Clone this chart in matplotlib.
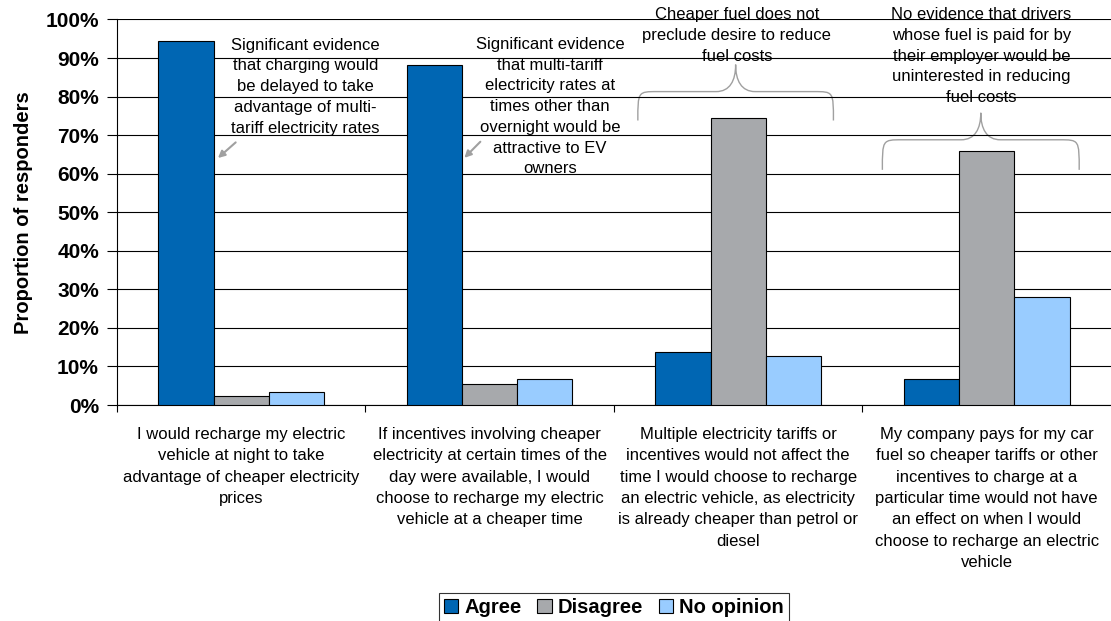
import matplotlib
matplotlib.use("Agg")

import matplotlib.pyplot as plt
import numpy as np
from matplotlib.path import Path
from matplotlib.patches import PathPatch, Patch
from matplotlib.ticker import PercentFormatter

plt.rcParams['font.family'] = ['Liberation Sans', 'DejaVu Sans']

categories = [
    "I would recharge my electric\nvehicle at night to take\nadvantage of cheaper electricity\nprices",
    "If incentives involving cheaper\nelectricity at certain times of the\nday were available, I would\nchoose to recharge my electric\nvehicle at a cheaper time",
    "Multiple electricity tariffs or\nincentives would not affect the\ntime I would choose to recharge\nan electric vehicle, as electricity\nis already cheaper than petrol or\ndiesel",
    "My company pays for my car\nfuel so cheaper tariffs or other\nincentives to charge at a\nparticular time would not have\nan effect on when I would\nchoose to recharge an electric\nvehicle",
]
series = ["Agree", "Disagree", "No opinion"]
agree = [94.4, 88.2, 13.7, 6.7]
disagree = [2.4, 5.4, 74.4, 65.8]
no_opinion = [3.5, 6.7, 12.6, 27.9]
colors = ["#0066B3", "#A7A9AC", "#99CCFF"]

notes = [
    "Significant evidence\nthat charging would\nbe delayed to take\nadvantage of multi-\ntariff electricity rates",
    "Significant evidence\nthat multi-tariff\nelectricity rates at\ntimes other than\novernight would be\nattractive to EV\nowners",
    "Cheaper fuel does not\npreclude desire to reduce\nfuel costs",
    "No evidence that drivers\nwhose fuel is paid for by\ntheir employer would be\nuninterested in reducing\nfuel costs",
]


def brace(ax, x0, x1, yb, yh, yt):
    # curly brace opening downward, tip pointing up
    xm = (x0 + x1) / 2
    r = (x1 - x0) * 0.1
    verts = [
        (x0, yb), (x0, yh), (x0, yh), (x0 + r, yh),
        (xm - r, yh),
        (xm - r * 0.3, yh), (xm, yh + (yt - yh) * 0.4), (xm, yt),
        (xm, yh + (yt - yh) * 0.4), (xm + r * 0.3, yh), (xm + r, yh),
        (x1 - r, yh),
        (x1, yh), (x1, yh), (x1, yb),
    ]
    codes = [Path.MOVETO, Path.CURVE4, Path.CURVE4, Path.CURVE4,
             Path.LINETO,
             Path.CURVE4, Path.CURVE4, Path.CURVE4,
             Path.CURVE4, Path.CURVE4, Path.CURVE4,
             Path.LINETO,
             Path.CURVE4, Path.CURVE4, Path.CURVE4]
    ax.add_patch(PathPatch(Path(verts, codes), fill=False, edgecolor="#A0A0A0",
                           lw=1.0, clip_on=False))


fig = plt.figure(figsize=(11.11, 6.21), dpi=100)
ax = fig.add_axes([0.1053, 0.3478, 0.8947, 0.6208])

x = np.arange(len(categories))
w = 0.222
for i, (vals, name) in enumerate(zip([agree, disagree, no_opinion], series)):
    ax.bar(x + (i - 1) * w, vals, w, color=colors[i], edgecolor="black",
           linewidth=0.8, label=name, zorder=3)

ax.set_xlim(-0.5, 3.5)
ax.set_ylim(0, 100)
ax.set_yticks(np.arange(0, 101, 10))
ax.yaxis.set_major_formatter(PercentFormatter(decimals=0))
ax.grid(axis="y", color="black", lw=0.8, zorder=0)
ax.set_xticks([-0.5, 0.5, 1.5, 2.5])
ax.set_xticklabels([])
ax.tick_params(axis="x", direction="out", length=5, width=0.8)
ax.tick_params(axis="y", direction="out", length=7, width=0.8, labelsize=15, pad=6)
for lab in ax.get_yticklabels():
    lab.set_fontweight("bold")
for s in ["top", "right"]:
    ax.spines[s].set_visible(False)
ax.set_ylabel("Proportion of responders", fontsize=14.5, fontweight="bold")
ax.yaxis.set_label_coords(-0.084, 0.5)

for xi, cat in zip(x, categories):
    ax.text(xi, -5.7, cat, ha="center", va="top", fontsize=12, linespacing=1.53)

# annotations
fs = 12
ls = 1.48
ax.text(0.259, 82.6, notes[0], ha="center", va="center", fontsize=fs,
        linespacing=ls, zorder=4)
ax.text(1.243, 77.4, notes[1], ha="center", va="center", fontsize=fs,
        linespacing=ls, zorder=4)
ax.text(1.994, 95.8, notes[2], ha="center", va="center", fontsize=fs,
        linespacing=ls, zorder=4, clip_on=False)
ax.text(2.978, 90.5, notes[3], ha="center", va="center", fontsize=fs,
        linespacing=ls, zorder=4, clip_on=False)

ax.annotate("", xy=(-0.102, 63.6), xytext=(-0.014, 68.6),
            arrowprops=dict(arrowstyle="-|>", color="#A0A0A0", lw=1.5,
                            mutation_scale=10))
ax.annotate("", xy=(0.890, 63.6), xytext=(0.970, 68.8),
            arrowprops=dict(arrowstyle="-|>", color="#A0A0A0", lw=1.5,
                            mutation_scale=10))

brace(ax, 1.596, 2.383, 73.8, 81.3, 88.3)
brace(ax, 2.580, 3.372, 61.0, 68.8, 75.8)

handles = [Patch(facecolor=c, edgecolor="black", lw=0.8) for c in colors]
leg = fig.legend(handles, series, loc="center", bbox_to_anchor=(614 / 1111, 0.022),
                 ncol=3, frameon=True, fancybox=False, edgecolor="black",
                 prop=dict(weight="bold", size=14.5), handlelength=0.7,
                 handleheight=0.7, handletextpad=0.3, columnspacing=0.8,
                 borderpad=0.25, borderaxespad=0)
leg.get_frame().set_linewidth(0.8)

fig.savefig("out.png", dpi=100)
